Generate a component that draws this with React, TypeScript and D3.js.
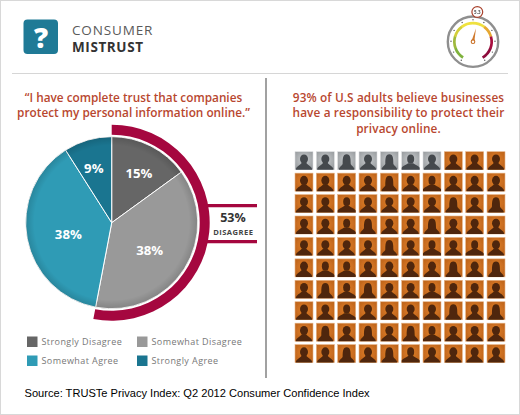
import React from "react";
import * as d3 from "d3";

const sliceLabels = ["Strongly Disagree", "Somewhat Disagree", "Somewhat Agree", "Strongly Agree"];
const sliceValues = [15, 38, 38, 9];
const sliceColors = ["#666666", "#999999", "#2f9bb5", "#1a7590"];
const disagreeShare = 53;
const gridColumns = d3.range(10);
const gridRows = d3.range(10);
const believeCount = 93;
// 0 short hair, 1 long hair, 2 broad shoulders
const portraitKinds = [
  0, 0, 1, 0, 1, 2, 0, 0, 0, 0,
  0, 0, 0, 0, 1, 0, 2, 0, 0, 0,
  0, 0, 2, 0, 0, 0, 0, 1, 0, 1,
  0, 0, 2, 1, 0, 0, 1, 0, 0, 0,
  0, 0, 0, 0, 1, 0, 2, 0, 2, 0,
  0, 2, 2, 0, 0, 0, 0, 1, 0, 1,
  0, 1, 2, 1, 0, 0, 2, 0, 0, 0,
  0, 0, 2, 0, 0, 0, 0, 1, 0, 1,
  0, 1, 0, 1, 0, 1, 2, 0, 0, 0,
  0, 0, 1, 0, 1, 2, 0, 0, 0, 0,
];
const leftTitle = ["\u201CI have complete trust that companies", "protect my personal information online.\u201D"];
const rightTitle = ["93% of U.S adults believe businesses", "have a responsibility to protect their", "privacy online."];
const source = "Source: TRUSTe Privacy Index: Q2 2012 Consumer Confidence Index";
const gaugeStops = ["#7fb23e", "#9fb93e", "#d3cf3a", "#efe23e", "#efe040", "#e6a833", "#a8103f", "#8e0b3c"];
const gaugeTicks = d3.range(11);

const HEAD = '"Open Sans", sans-serif';
const labelNudge = [[3, -2], [-7, -1], [9, 2], [-3, -3]];

function Portrait({ x, y, size, kind, on }: { x: number; y: number; size: number; kind: number; on: boolean }) {
  const s = size / 18;
  const fg = on ? "#4f2708" : "#44484d";
  return (
    <g transform={`translate(${x},${y}) scale(${s})`}>
      <rect width={18} height={18} fill={on ? "url(#orangeBg)" : "url(#greyBg)"} stroke={on ? "#e6b385" : "#dcdee0"} strokeWidth={0.6} />
      {kind === 1 ? (
        <path d="M1.2 18 C1.5 14.5 4.6 14.2 5 12 C5 7.5 5 2.6 9 2.6 C13 2.6 13 7.5 13 12 C13.4 14.2 16.5 14.5 16.8 18Z" fill={fg} />
      ) : (
        <>
          <ellipse cx={9} cy={7.3} rx={kind === 2 ? 3.5 : 4} ry={4.6} fill={fg} />
          <path d={kind === 2 ? "M0 18 L0 16 C1 14 4 13.2 6.5 11.5 L11.5 11.5 C14 13.2 17 14 18 16 L18 18Z" : "M0.8 18 C1.2 14.4 5 13.6 6.8 11 L11.2 11 C13 13.6 16.8 14.4 17.2 18Z"} fill={fg} />
        </>
      )}
    </g>
  );
}

export default function App() {
  const cx = 111.7, cy = 222.7, r = 86;
  const pie = d3.pie<number>().sort(null).value((d) => d)(sliceValues);
  const arc = d3.arc<d3.PieArcDatum<number>>().innerRadius(0).outerRadius(r);
  const labelArc = d3.arc<d3.PieArcDatum<number>>().innerRadius(r * 0.62).outerRadius(r * 0.62);
  const ring = d3.arc()({
    innerRadius: 88,
    outerRadius: 98,
    startAngle: 0,
    endAngle: (disagreeShare / 100) * 2 * Math.PI,
  } as any) as string;
  const x = d3.scaleBand<number>().domain(gridColumns).range([295, 505]).paddingInner(0.156).paddingOuter(0).align(0);
  const y = d3.scaleBand<number>().domain(gridRows).range([151.7, 362.7]).paddingInner(0.156).paddingOuter(0).align(0);

  const legend = [
    { x: 27, y: 342 }, { x: 137, y: 342 }, { x: 27, y: 361 }, { x: 137, y: 361 },
  ];
  const gx = 473, gy = 41.7;
  const gaugeAngle = d3.scaleLinear().domain([0, gaugeStops.length]).range([-2.58, 2.58]);
  const tickAngle = d3.scaleLinear().domain([0, gaugeTicks.length - 1]).range([-2.58, 2.58]);
  const gaugeArc = d3.arc();
  return (
    <svg width={520} height={415} style={{ position: "absolute", left: 0, top: 0, background: "#fff" }}>
      <defs>
        <radialGradient id="orangeBg" cx="50%" cy="45%" r="70%">
          <stop offset="0%" stopColor="#e07f28" />
          <stop offset="100%" stopColor="#b9601a" />
        </radialGradient>
        <radialGradient id="greyBg" cx="50%" cy="45%" r="70%">
          <stop offset="0%" stopColor="#c9ccce" />
          <stop offset="100%" stopColor="#94989b" />
        </radialGradient>
        <radialGradient id="pieEdge" gradientUnits="userSpaceOnUse" cx={0} cy={0} r={r}>
          <stop offset="90%" stopColor="#000" stopOpacity={0} />
          <stop offset="100%" stopColor="#000" stopOpacity={0.14} />
        </radialGradient>
        <filter id="soft" x="-5%" y="-5%" width="110%" height="110%">
          <feGaussianBlur stdDeviation={0.35} />
        </filter>
      </defs>
      <rect x={0.5} y={0.5} width={519} height={414} fill="#fff" stroke="#d8d8d8" />
      {/* header */}
      <rect x={23.5} y={19.5} width={34.5} height={34.5} rx={4} fill="#1f7a96" />
      <text x={41} y={48} textAnchor="middle" fontFamily={HEAD} fontWeight={800} fontSize={28} fill="#fff">?</text>
      <text x={72} y={35} fontFamily={HEAD} fontSize={13.5} letterSpacing={0.85} fill="#5a5a5a">CONSUMER</text>
      <text x={72} y={51.5} fontFamily={HEAD} fontWeight={700} fontSize={13.5} letterSpacing={0.6} fill="#333">MISTRUST</text>
      <line x1={12} x2={508} y1={73.5} y2={73.5} stroke="#d6d6d6" />
      <line x1={266} x2={266} y1={78} y2={378} stroke="#8a8a8a" strokeWidth={1.6} />

      {/* gauge */}
      <g filter="url(#soft)">
        <circle cx={gx} cy={gy} r={25.2} fill="#fff" stroke="#8f8f8f" strokeWidth={2.4} />
        {gaugeStops.map((c, i) => (
          <path key={i} transform={`translate(${gx},${gy})`} fill={c}
            d={gaugeArc({ innerRadius: 17.3, outerRadius: 20, startAngle: gaugeAngle(i), endAngle: gaugeAngle(i + 1) + 0.02 } as any) as string} />
        ))}
        {gaugeTicks.map((t) => (
          <circle key={t} cx={gx + 22 * Math.sin(tickAngle(t))} cy={gy - 22 * Math.cos(tickAngle(t))} r={0.7} fill="#555" />
        ))}
        <path d={`M${gx - 1.4} ${gy - 1} L${gx + 3} ${gy - 13.5} L${gx + 1.4} ${gy - 1}Z`} fill="#d07a2e" />
        <circle cx={gx} cy={gy} r={1.8} fill="#fff" stroke="#c96f25" strokeWidth={1.1} />
        <circle cx={477.3} cy={12} r={5.4} fill="#fff" stroke="#a8412c" strokeWidth={1.2} />
        <text x={477.3} y={13.6} textAnchor="middle" fontFamily={HEAD} fontSize={4.5} fontWeight={700} fill="#555">5.3</text>
      </g>

      {/* titles */}
      {leftTitle.map((t, i) => (
        <text key={t} x={133.5} y={102 + i * 15.3} textAnchor="middle" fontFamily={HEAD} fontWeight={600} fontSize={11.8} fill="#b8472f">{t}</text>
      ))}
      {rightTitle.map((t, i) => (
        <text key={t} x={398.5} y={102 + i * 15.3} textAnchor="middle" fontFamily={HEAD} fontWeight={600} fontSize={11.8} letterSpacing={0.12} fill="#b8472f">{t}</text>
      ))}

      {/* pie */}
      <g transform={`translate(${cx},${cy})`}>
        <path d={ring} fill="#a5073f" />
        {pie.map((d, i) => (
          <path key={i} d={arc(d) as string} fill={sliceColors[i]} stroke="#fff" strokeWidth={1} />
        ))}
        <circle r={r} fill="url(#pieEdge)" />
        {pie.map((d, i) => {
          const [lx, ly] = labelArc.centroid(d);
          return (
            <text key={i} x={lx + labelNudge[i][0]} y={ly + labelNudge[i][1]} dy="0.36em" textAnchor="middle" fontFamily={HEAD} fontWeight={700} fontSize={13.2} fill="#fff">
              {sliceValues[i]}%
            </text>
          );
        })}
      </g>
      <line x1={205} x2={257} y1={205.7} y2={205.7} stroke="#a5073f" strokeWidth={3.2} />
      <line x1={205} x2={257} y1={241.7} y2={241.7} stroke="#a5073f" strokeWidth={3.2} />
      <text x={233} y={222} textAnchor="middle" fontFamily={HEAD} fontWeight={700} fontSize={12.5} fill="#333">{disagreeShare}%</text>
      <text x={233.3} y={234.5} textAnchor="middle" fontFamily={HEAD} fontWeight={700} fontSize={7.6} letterSpacing={0.45} fill="#444">DISAGREE</text>

      {/* legend */}
      {sliceLabels.map((l, i) => (
        <g key={l}>
          <rect x={legend[i].x} y={legend[i].y - 5.5} width={10.5} height={10.5} fill={sliceColors[i]} />
          <text x={legend[i].x + 14.5} y={legend[i].y + 3} fontFamily={HEAD} fontSize={9} fill="#777" letterSpacing={0.42}>{l}</text>
        </g>
      ))}

      {/* portraits */}
      <g filter="url(#soft)">
        {gridRows.map((row) =>
          gridColumns.map((col) => {
            const idx = row * 10 + col;
            return (
              <Portrait key={idx} x={x(col)!} y={y(row)!} size={x.bandwidth()} kind={portraitKinds[idx]} on={idx >= 100 - believeCount} />
            );
          })
        )}
      </g>

      <text x={24.5} y={397} fontFamily='"Liberation Sans", Arial, sans-serif' fontSize={11.1} fill="#000">{source}</text>
    </svg>
  );
}
